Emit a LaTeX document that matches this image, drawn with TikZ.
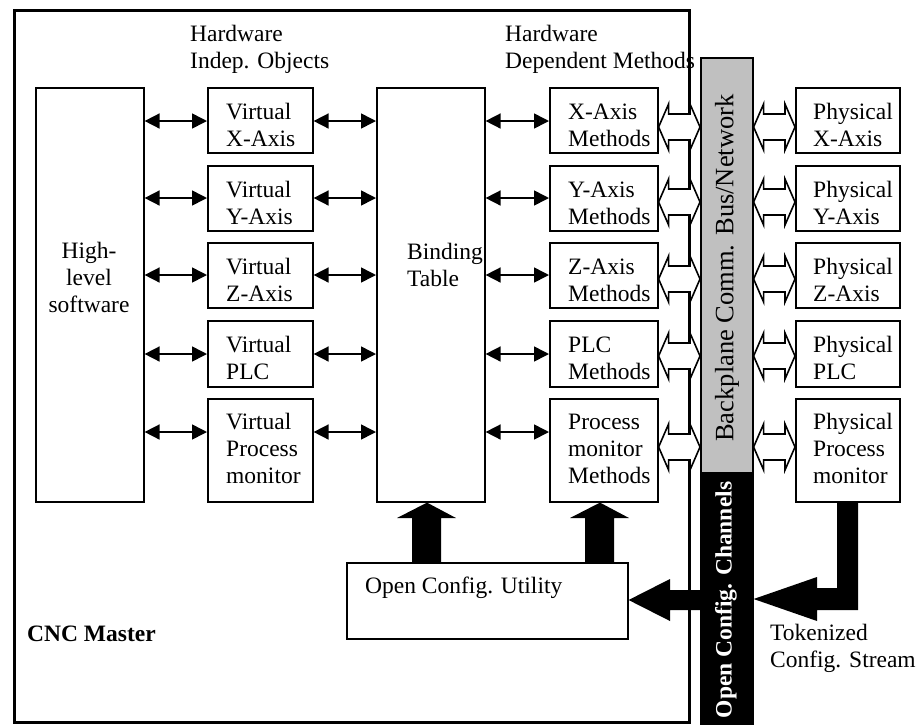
\documentclass[tikz,border=0pt]{standalone}
\usepackage{fontspec}
\setmainfont{Liberation Serif}
\usetikzlibrary{calc,arrows.meta}
\newcommand\hollowarrow[3]{%
  \draw[harrow] (#1.east|-0,#3) -- ++(10,-23) -- ++(0,10)
    -- ($(#2.west|-0,#3)+(-10,-13)$) -- ++(0,-10) -- (#2.west|-0,#3)
    -- ++(-10,23) -- ++(0,-10) -- ($(#1.east|-0,#3)+(10,13)$) -- ++(0,10) -- cycle;}
\begin{document}
\begin{tikzpicture}[x=1pt,y=-1pt,
  box/.style={draw,line width=1.6pt,inner sep=0pt,anchor=north west},
  txt/.style={inner sep=0pt,anchor=base west,align=left,font=\fontsize{23.5}{27}\selectfont},
  sarrow/.style={line width=1.6pt,{Triangle[length=15pt,width=15pt]}-{Triangle[length=15pt,width=15pt]}},
  harrow/.style={draw,line width=1.6pt,fill=white,line join=miter},
  bigarrow/.style={fill=black}]
\useasboundingbox (0,0) rectangle (919,724);
% frame
\node[draw,line width=3pt,inner sep=0pt,anchor=north west,minimum width=675pt,minimum height=712pt] (cnc) at (13,9) {};
% bus
\node[draw,line width=1.6pt,fill={rgb,255:red,192;green,192;blue,192},inner sep=0pt,anchor=north west,minimum width=52pt,minimum height=415pt] (bus) at (700,57) {};
\node[draw,line width=1.6pt,fill=black,inner sep=0pt,anchor=north west,minimum width=52pt,minimum height=254pt] (chan) at (700,472) {};
\node[rotate=90,inner sep=0pt,font=\fontsize{26.5}{30}\selectfont] (bustxt) at (727,268) {Backplane Comm. Bus/Network};
\node[rotate=90,inner sep=0pt,text=white,font=\fontsize{23.5}{27}\selectfont\bfseries] (chantxt) at (726,600) {Open Config. Channels};
% top labels (anchor = baseline of last line)
\node[txt] (lab1) at (190,68) {Hardware\\Indep. Objects};
\node[txt] (lab2) at (505,68) {Hardware\\Dependent Methods};
% big boxes
\node[box,minimum width=108pt,minimum height=414pt] (hl) at (35,87) {};
\node[txt,anchor=base,align=center] (hltxt) at (89,312) {High-\\level\\software};
\node[box,minimum width=108pt,minimum height=414pt] (bind) at (376,87) {};
\node[txt] (bindtxt) at (407,286) {Binding\\Table};
% virtual boxes
\node[box,minimum width=105pt,minimum height=65pt] (vx) at (207,87) {};
\node[box,minimum width=105pt,minimum height=65pt] (vy) at (207,165) {};
\node[box,minimum width=105pt,minimum height=65pt] (vz) at (207,242) {};
\node[box,minimum width=105pt,minimum height=66pt] (vp) at (207,320) {};
\node[box,minimum width=105pt,minimum height=103pt] (vm) at (207,398) {};
\node[txt] at (226,146) {Virtual\\X-Axis};
\node[txt] at (226,224) {Virtual\\Y-Axis};
\node[txt] at (226,301) {Virtual\\Z-Axis};
\node[txt] at (226,379) {Virtual\\PLC};
\node[txt] at (226,483) {Virtual\\Process\\monitor};
% method boxes
\node[box,minimum width=108pt,minimum height=65pt] (mx) at (549,87) {};
\node[box,minimum width=108pt,minimum height=65pt] (my) at (549,165) {};
\node[box,minimum width=108pt,minimum height=65pt] (mz) at (549,242) {};
\node[box,minimum width=108pt,minimum height=66pt] (mp) at (549,320) {};
\node[box,minimum width=108pt,minimum height=103pt] (mm) at (549,398) {};
\node[txt] at (568,146) {X-Axis\\Methods};
\node[txt] at (568,224) {Y-Axis\\Methods};
\node[txt] at (568,301) {Z-Axis\\Methods};
\node[txt] at (568,379) {PLC\\Methods};
\node[txt] at (568,483) {Process\\monitor\\Methods};
% physical boxes
\node[box,minimum width=104pt,minimum height=65pt] (px) at (795,87) {};
\node[box,minimum width=104pt,minimum height=65pt] (py) at (795,165) {};
\node[box,minimum width=104pt,minimum height=65pt] (pz) at (795,242) {};
\node[box,minimum width=104pt,minimum height=66pt] (pp) at (795,320) {};
\node[box,minimum width=104pt,minimum height=103pt] (pm) at (795,398) {};
\node[txt] at (813,146) {Physical\\X-Axis};
\node[txt] at (813,224) {Physical\\Y-Axis};
\node[txt] at (813,301) {Physical\\Z-Axis};
\node[txt] at (813,379) {Physical\\PLC};
\node[txt] at (813,483) {Physical\\Process\\monitor};
% utility
\node[box,minimum width=281pt,minimum height=76pt] (util) at (346,562) {};
\node[txt] (utiltxt) at (365,593) {Open Config. Utility};
\node[txt,font=\fontsize{23.5}{27}\selectfont\bfseries] (cnctxt) at (27,641) {CNC Master};
\node[txt] (toktxt) at (770,667) {Tokenized\\Config. Stream};
% small arrows
\foreach \yy/\v/\m in {121/vx/mx,198/vy/my,275/vz/mz,354/vp/mp,432/vm/mm}{
  \draw[sarrow] (hl.east|-0,\yy) -- (\v.west|-0,\yy);
  \draw[sarrow] (\v.east|-0,\yy) -- (bind.west|-0,\yy);
  \draw[sarrow] (bind.east|-0,\yy) -- (\m.west|-0,\yy);
}
% hollow arrows
\foreach \yy/\m/\p in {127/mx/px,202/my/py,279/mz/pz,356/mp/pp,447/mm/pm}{
  \hollowarrow{\m}{bus}{\yy}
  \hollowarrow{bus}{\p}{\yy}
}
% big black arrows
\fill[bigarrow] (util.north-|412,0) -- (412,518) -- (397,518) -- (bind.south-|427,0) -- (456,518) -- (441,518) -- (util.north-|441,0) -- cycle;
\fill[bigarrow] (util.north-|585,0) -- (585,518) -- (570,518) -- (mm.south-|600,0) -- (629,518) -- (614,518) -- (util.north-|614,0) -- cycle;
\fill[bigarrow] (util.east|-0,600) -- (670,579) -- (670,590) -- (chan.west|-0,590) -- (chan.west|-0,610) -- (670,610) -- (670,621) -- cycle;
\fill[bigarrow] (pm.south-|837,0) -- (837,588) -- (817,588) -- (817,577) -- (chan.east|-0,599) -- (817,621) -- (817,610) -- (858,610) -- (pm.south-|858,0) -- cycle;
\end{tikzpicture}
\end{document}
